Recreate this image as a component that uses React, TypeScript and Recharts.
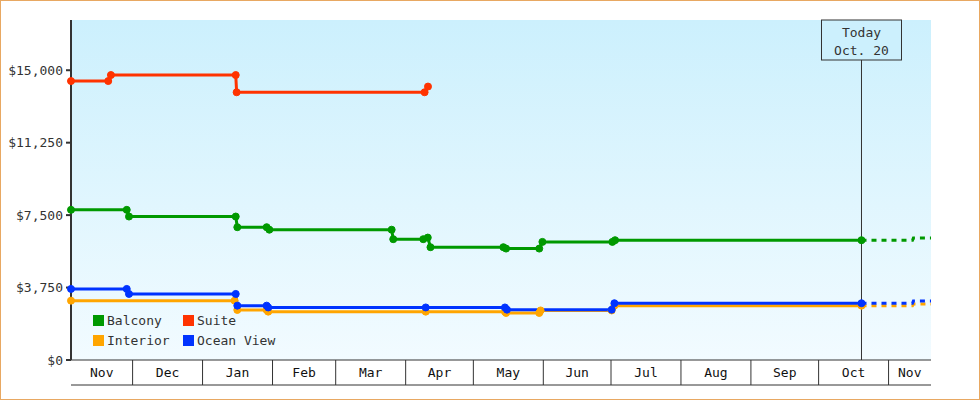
import {
  LineChart,
  Line,
  XAxis,
  YAxis,
  CartesianGrid,
  ReferenceLine,
  Legend,
} from "recharts";

// x values are days counted from Nov 1
const monthNames = ["Nov", "Dec", "Jan", "Feb", "Mar", "Apr", "May", "Jun", "Jul", "Aug", "Sep", "Oct", "Nov"];
const monthStarts = [0, 30, 61, 92, 120, 151, 181, 212, 242, 273, 304, 334, 365];
const dayRange = [2.7, 383.8];
const today = 353;
const todayLabel = ["Today", "Oct. 20"];

const priceTicks = [0, 3750, 7500, 11250, 15000];
const priceMax = 17600;

const balcony = [
  { day: 2.7, price: 7772 },
  { day: 27.4, price: 7772 },
  { day: 28.4, price: 7426 },
  { day: 75.7, price: 7426 },
  { day: 76.4, price: 6875 },
  { day: 89.4, price: 6875 },
  { day: 90.6, price: 6745 },
  { day: 144.8, price: 6745 },
  { day: 145.5, price: 6254 },
  { day: 158.8, price: 6254 },
  { day: 160.8, price: 6337 },
  { day: 162.0, price: 5839 },
  { day: 194.3, price: 5839 },
  { day: 195.5, price: 5767 },
  { day: 210.2, price: 5767 },
  { day: 211.6, price: 6114 },
  { day: 242.6, price: 6114 },
  { day: 243.8, price: 6202 },
  { day: 353, price: 6202 },
];
const balconyForecast = [
  { day: 353, price: 6202 },
  { day: 375.6, price: 6202 },
  { day: 376, price: 6321 },
  { day: 383.8, price: 6321 },
];

const suite = [
  { day: 2.7, price: 14440 },
  { day: 19.2, price: 14440 },
  { day: 20.4, price: 14751 },
  { day: 75.7, price: 14751 },
  { day: 76.1, price: 13860 },
  { day: 159.4, price: 13860 },
  { day: 160.9, price: 14155 },
];

const interior = [
  { day: 2.7, price: 3073 },
  { day: 75.2, price: 3073 },
  { day: 76.4, price: 2591 },
  { day: 89.4, price: 2591 },
  { day: 90.1, price: 2503 },
  { day: 159.9, price: 2503 },
  { day: 195.0, price: 2503 },
  { day: 195.5, price: 2435 },
  { day: 210.2, price: 2435 },
  { day: 210.8, price: 2565 },
  { day: 242.3, price: 2565 },
  { day: 243.5, price: 2813 },
  { day: 353, price: 2813 },
];
const interiorForecast = [
  { day: 353, price: 2813 },
  { day: 375.6, price: 2813 },
  { day: 376, price: 2901 },
  { day: 383.8, price: 2901 },
];

const oceanView = [
  { day: 2.7, price: 3679 },
  { day: 27.4, price: 3679 },
  { day: 28.4, price: 3420 },
  { day: 75.7, price: 3420 },
  { day: 76.4, price: 2814 },
  { day: 89.4, price: 2814 },
  { day: 90.1, price: 2720 },
  { day: 159.9, price: 2720 },
  { day: 195.0, price: 2720 },
  { day: 195.9, price: 2606 },
  { day: 242.3, price: 2606 },
  { day: 243.5, price: 2938 },
  { day: 353, price: 2938 },
];
const oceanViewForecast = [
  { day: 353, price: 2938 },
  { day: 375.6, price: 2938 },
  { day: 376, price: 3057 },
  { day: 383.8, price: 3057 },
];

const series = [
  { name: "Balcony", color: "#009900" },
  { name: "Suite", color: "#ff3300" },
  { name: "Interior", color: "#ffa500" },
  { name: "Ocean View", color: "#0033ff" },
];

const bandTicks = monthStarts.filter((d) => d > dayRange[0] && d < dayRange[1]);
const labelTicks = monthStarts.map((d, i) => {
  const end = i + 1 < monthStarts.length ? monthStarts[i + 1] : dayRange[1];
  return (Math.max(d, dayRange[0]) + Math.min(end, dayRange[1])) / 2;
});

const ink = "#333";
const bgTop = "#ccf0fd";

const LegendGrid = () => (
  <div
    style={{
      display: "grid",
      gridTemplateColumns: "90px 100px",
      rowGap: 9,
      fontSize: 13,
      color: ink,
    }}
  >
    {series.map((s) => (
      <div key={s.name} style={{ display: "flex", alignItems: "center", height: 11, whiteSpace: "nowrap" }}>
        <span style={{ width: 11, height: 11, background: s.color, marginRight: 3, flex: "none" }} />
        {s.name}
      </div>
    ))}
  </div>
);

const TodayLabel = (props: any) => {
  const { viewBox } = props;
  const cx = viewBox.x;
  const top = viewBox.y;
  return (
    <g>
      <rect x={cx - 40} y={top} width={80} height={40} fill={bgTop} stroke={ink} strokeWidth={1} />
      <text x={cx} y={top + 17} textAnchor="middle" fontSize={13} fill={ink}>
        {todayLabel[0]}
      </text>
      <text x={cx} y={top + 35} textAnchor="middle" fontSize={13} fill={ink}>
        {todayLabel[1]}
      </text>
    </g>
  );
};

const dotFor = (color: string) => ({ r: 3.5, fill: color, stroke: color, strokeWidth: 1 });

export default function App() {
  const [balc, suit, inter, ocean] = series;
  return (
    <div
      style={{
        position: "absolute",
        left: 0,
        top: 0,
        width: 980,
        height: 400,
        background: "#fff",
        fontFamily: "'DejaVu Sans Mono', monospace",
      }}
    >
      <LineChart width={980} height={400} margin={{ top: 20, right: 49, bottom: 14, left: 0 }}>
        <defs>
          <linearGradient id="plotBg" x1="0" y1="0" x2="0" y2="1">
            <stop offset="0%" stopColor={bgTop} />
            <stop offset="100%" stopColor="#f2fbff" />
          </linearGradient>
        </defs>
        <CartesianGrid xAxisId="bands" horizontal={false} vertical={false} fill="url(#plotBg)" />
        <XAxis
          xAxisId="bands"
          type="number"
          dataKey="day"
          domain={dayRange}
          ticks={bandTicks}
          interval={0}
          height={25}
          tickSize={25}
          tickFormatter={() => ""}
          axisLine={{ stroke: ink, strokeWidth: 1 }}
          tickLine={{ stroke: ink, strokeWidth: 1 }}
        />
        <XAxis
          xAxisId="months"
          type="number"
          dataKey="day"
          domain={dayRange}
          allowDataOverflow
          ticks={labelTicks}
          interval={0}
          height={1}
          tickSize={0}
          tickMargin={-17}
          tickLine={false}
          axisLine={{ stroke: ink, strokeWidth: 1 }}
          tickFormatter={(_v: number, i: number) => monthNames[i]}
          tick={{ fontSize: 13, fill: "#111" }}
        />
        <YAxis
          type="number"
          domain={[0, priceMax]}
          ticks={priceTicks}
          interval={0}
          width={71}
          tickSize={5}
          tickMargin={3}
          axisLine={{ stroke: ink, strokeWidth: 2 }}
          tickLine={{ stroke: ink, strokeWidth: 2 }}
          tick={{ fontSize: 13, fill: ink }}
          tickFormatter={(v: number) => "$" + v.toLocaleString("en-US")}
        />
        <ReferenceLine
          xAxisId="bands"
          x={today}
          stroke={ink}
          strokeWidth={1}
          label={<TodayLabel />}
        />
        <Line xAxisId="bands" data={balconyForecast} dataKey="price" stroke={balc.color} strokeWidth={3} strokeDasharray="5 5" dot={false} activeDot={false} legendType="none" isAnimationActive={false} />
        <Line xAxisId="bands" data={interiorForecast} dataKey="price" stroke={inter.color} strokeWidth={3} strokeDasharray="5 5" dot={false} activeDot={false} legendType="none" isAnimationActive={false} />
        <Line xAxisId="bands" data={oceanViewForecast} dataKey="price" stroke={ocean.color} strokeWidth={3} strokeDasharray="5 5" dot={false} activeDot={false} legendType="none" isAnimationActive={false} />
        <Line xAxisId="bands" data={balcony} dataKey="price" name={balc.name} stroke={balc.color} strokeWidth={3} dot={dotFor(balc.color)} activeDot={false} isAnimationActive={false} />
        <Line xAxisId="bands" data={suite} dataKey="price" name={suit.name} stroke={suit.color} strokeWidth={3} dot={dotFor(suit.color)} activeDot={false} isAnimationActive={false} />
        <Line xAxisId="bands" data={interior} dataKey="price" name={inter.name} stroke={inter.color} strokeWidth={3} dot={dotFor(inter.color)} activeDot={false} isAnimationActive={false} />
        <Line xAxisId="bands" data={oceanView} dataKey="price" name={ocean.name} stroke={ocean.color} strokeWidth={3} dot={dotFor(ocean.color)} activeDot={false} isAnimationActive={false} />
        <Legend
          layout="horizontal"
          verticalAlign="middle"
          align="center"
          content={() => <LegendGrid />}
          wrapperStyle={{ left: 93, top: 315, width: 200 }}
        />
      </LineChart>
      <div
        style={{
          position: "absolute",
          inset: 0,
          border: "1px solid #e8a862",
          pointerEvents: "none",
        }}
      />
    </div>
  );
}
